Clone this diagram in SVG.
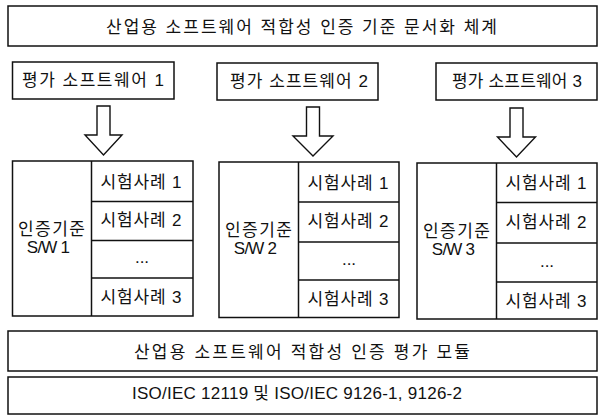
<svg xmlns="http://www.w3.org/2000/svg" width="598" height="417" viewBox="0 0 598 417">
<style>
.box{fill:#fff;stroke:#111;stroke-width:1.5}
.ln{stroke:#111;stroke-width:1.5;fill:none}
.arr{fill:#fff;stroke:#111;stroke-width:1.4;stroke-linejoin:miter}
text{font-family:"Liberation Sans","Noto Sans CJK KR",sans-serif;font-size:17px;fill:#111;text-anchor:middle;dominant-baseline:central}
</style>
<rect width="598" height="417" fill="#fff"/>
<g id="top-title">
<rect class="box" x="8" y="6" width="589" height="40"/>
<text x="301.5" y="27" textLength="391" lengthAdjust="spacing">산업용 소프트웨어 적합성 인증 기준 문서화 체계</text>
</g>
<g id="sw1">
<rect class="box" x="12.5" y="62" width="161.5" height="37"/>
<text x="93" y="80" textLength="142" lengthAdjust="spacing">평가 소프트웨어 1</text>
</g>
<g id="sw2">
<rect class="box" x="217" y="63" width="161" height="37"/>
<text x="299" y="81" textLength="138" lengthAdjust="spacing">평가 소프트웨어 2</text>
</g>
<g id="sw3">
<rect class="box" x="436" y="63" width="161" height="37"/>
<text x="517" y="81" textLength="130" lengthAdjust="spacing">평가 소프트웨어 3</text>
</g>
<g id="connectors">
<polygon class="arr" points="97,106 110,106 110,135 122,135 103.5,155 85,135 97,135"/>
<polygon class="arr" points="306.5,107 319.5,107 319.5,136 333,136 313,156 293,136 306.5,136"/>
<polygon class="arr" points="510,108 523,108 523,137 535.5,137 516.5,157 497.5,137 510,137"/>
</g>
<g id="group1">
<rect class="box" x="12.5" y="161" width="180.5" height="155"/>
<line class="ln" x1="91.5" y1="161" x2="91.5" y2="316"/>
<line class="ln" x1="91.5" y1="201.5" x2="193" y2="201.5"/>
<line class="ln" x1="91.5" y1="240.5" x2="193" y2="240.5"/>
<line class="ln" x1="91.5" y1="278" x2="193" y2="278"/>
<text x="51.5" y="229" textLength="67" lengthAdjust="spacing">인증기준</text>
<text x="48" y="247" letter-spacing="-0.8">S/W 1</text>
<text x="141" y="182" textLength="81" lengthAdjust="spacing">시험사례 1</text>
<text x="141" y="220" textLength="81" lengthAdjust="spacing">시험사례 2</text>
<text x="142" y="257">...</text>
<text x="141" y="297" textLength="81" lengthAdjust="spacing">시험사례 3</text>
</g>
<g id="group2">
<rect class="box" x="219" y="162" width="180" height="155.5"/>
<line class="ln" x1="298.5" y1="162" x2="298.5" y2="317.5"/>
<line class="ln" x1="298.5" y1="202" x2="399" y2="202"/>
<line class="ln" x1="298.5" y1="242" x2="399" y2="242"/>
<line class="ln" x1="298.5" y1="280" x2="399" y2="280"/>
<text x="258.5" y="230" textLength="67" lengthAdjust="spacing">인증기준</text>
<text x="255" y="248" letter-spacing="-0.8">S/W 2</text>
<text x="348" y="183" textLength="81" lengthAdjust="spacing">시험사례 1</text>
<text x="348" y="221" textLength="81" lengthAdjust="spacing">시험사례 2</text>
<text x="349" y="259">...</text>
<text x="348" y="299" textLength="81" lengthAdjust="spacing">시험사례 3</text>
</g>
<g id="group3">
<rect class="box" x="417" y="163" width="180" height="156"/>
<line class="ln" x1="496.5" y1="163" x2="496.5" y2="319"/>
<line class="ln" x1="496.5" y1="202.5" x2="597" y2="202.5"/>
<line class="ln" x1="496.5" y1="243" x2="597" y2="243"/>
<line class="ln" x1="496.5" y1="282" x2="597" y2="282"/>
<text x="456.5" y="231" textLength="67" lengthAdjust="spacing">인증기준</text>
<text x="453" y="249" letter-spacing="-0.8">S/W 3</text>
<text x="546" y="183" textLength="81" lengthAdjust="spacing">시험사례 1</text>
<text x="546" y="222" textLength="81" lengthAdjust="spacing">시험사례 2</text>
<text x="547" y="261">...</text>
<text x="546" y="301" textLength="81" lengthAdjust="spacing">시험사례 3</text>
</g>
<g id="eval-module">
<rect class="box" x="8" y="331" width="589" height="40"/>
<text x="302" y="352" textLength="336" lengthAdjust="spacing">산업용 소프트웨어 적합성 인증 평가 모듈</text>
</g>
<g id="standards">
<rect class="box" x="8" y="377" width="589" height="37"/>
<text x="297" y="393" textLength="330" lengthAdjust="spacing">ISO/IEC 12119 및 ISO/IEC 9126-1, 9126-2</text>
</g>
</svg>
